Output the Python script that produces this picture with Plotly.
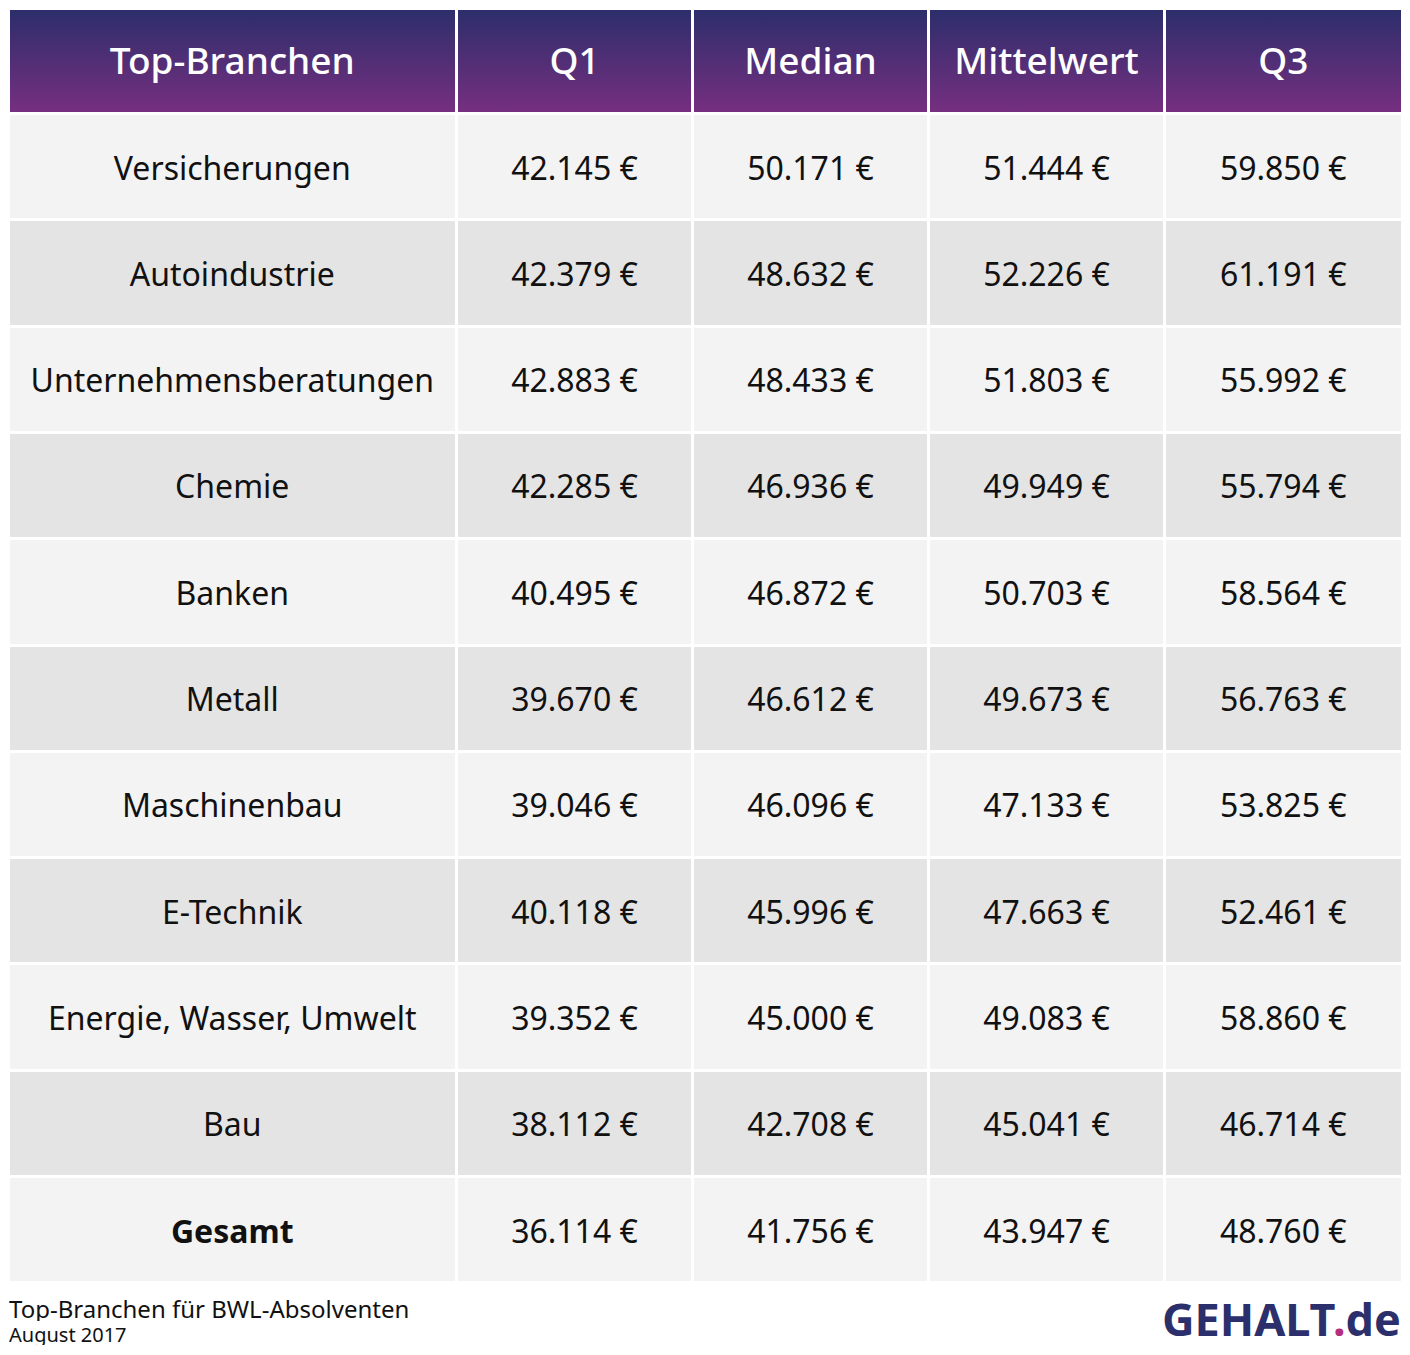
import plotly.graph_objects as go

#### table data
spalten = ['Top-Branchen', 'Q1', 'Median', 'Mittelwert', 'Q3']
branchen = ['Versicherungen', 'Autoindustrie', 'Unternehmensberatungen', 'Chemie', 'Banken',
            'Metall', 'Maschinenbau', 'E-Technik', 'Energie, Wasser, Umwelt', 'Bau', 'Gesamt']
q1 = [42145, 42379, 42883, 42285, 40495, 39670, 39046, 40118, 39352, 38112, 36114]
median = [50171, 48632, 48433, 46936, 46872, 46612, 46096, 45996, 45000, 42708, 41756]
mittelwert = [51444, 52226, 51803, 49949, 50703, 49673, 47133, 47663, 49083, 45041, 43947]
q3 = [59850, 61191, 55992, 55794, 58564, 56763, 53825, 52461, 58860, 46714, 48760]

# page has an 8px body margin, so the figure is sized to fill the rest of the window
W, H = 1394, 1339
FONT = 'Noto Sans'
HEAD_H, ROW_H = 105.5, 106.3
COLW = [448.5, 236, 236, 236, 237.5]
TEXT_SHIFT = 30  # push the text down so it sits in the middle of the cells

def euro(v):
    # every cell gets a tag so all of them are laid out the same way as the bold one
    return '<span>' + f'{v:,}'.replace(',', '.') + ' €</span>'

n = len(branchen)
row_fill = ['#f3f3f3' if i % 2 == 0 else '#e4e4e4' for i in range(n)]
namen = [f'<b>{b}</b>' if b == 'Gesamt' else f'<span>{b}</span>' for b in branchen]

fig = go.Figure()

#### gradient behind header (table header is transparent)
fig.add_trace(go.Scatter(
    x=[0, W, W, 0, 0], y=[H - HEAD_H, H - HEAD_H, H, H, H - HEAD_H],
    mode='lines', line=dict(width=0), fill='toself',
    fillgradient=dict(type='vertical', colorscale=[[0, '#772f80'], [1, '#2b2e6b']]),
    hoverinfo='skip', showlegend=False))

#### grid: cell fills and white separators
fig.add_trace(go.Table(
    domain=dict(x=[0, 1], y=[0, 1]),
    columnwidth=COLW,
    header=dict(values=[''] * 5, height=HEAD_H, fill_color='rgba(0,0,0,0)',
                line=dict(color='white', width=3)),
    cells=dict(values=[[''] * n] * 5, height=ROW_H, fill_color=[row_fill] * 5,
               line=dict(color='white', width=3))))

#### text, same table geometry shifted down a little
fig.add_trace(go.Table(
    domain=dict(x=[0, 1], y=[0, 1 - TEXT_SHIFT / H]),
    columnwidth=COLW,
    header=dict(values=spalten, height=HEAD_H - 6, fill_color='rgba(0,0,0,0)',
                line=dict(color='rgba(0,0,0,0)', width=0), align='center',
                font=dict(family=FONT, size=37, color='white', weight=500)),
    cells=dict(values=[namen, [euro(v) for v in q1], [euro(v) for v in median],
                       [euro(v) for v in mittelwert], [euro(v) for v in q3]],
               height=ROW_H, fill_color='rgba(0,0,0,0)',
               line=dict(color='rgba(0,0,0,0)', width=0), align='center',
               font=dict(family=FONT, size=32, color='#111111'))))

#### footer (fixed box heights so the boxes don't overlap or spill past the bottom)
fig.add_annotation(x=0, y=1 - 1300 / H, xref='paper', yref='paper', xanchor='left', yanchor='middle',
                   text='Top-Branchen für BWL-Absolventen', showarrow=False, borderpad=0,
                   height=26, valign='middle',
                   font=dict(family=FONT, size=24, color='#111111'))
fig.add_annotation(x=0, y=1 - 1326 / H, xref='paper', yref='paper', xanchor='left', yanchor='middle',
                   text='August 2017', showarrow=False, borderpad=0,
                   height=22, valign='middle',
                   font=dict(family=FONT, size=20, color='#111111'))
fig.add_annotation(x=1, y=1 - 1310 / H, xref='paper', yref='paper', xanchor='right', yanchor='middle',
                   text='<b>GEHALT<span style="color:#b62d7f">.</span>de</b>', showarrow=False, borderpad=0,
                   height=46, valign='middle',
                   font=dict(family=FONT, size=45, color='#2b2f6b'))

fig.update_layout(width=W, height=H, margin=dict(l=0, r=0, t=0, b=0),
                  paper_bgcolor='white', plot_bgcolor='white',
                  xaxis=dict(range=[0, W], visible=False, fixedrange=True),
                  yaxis=dict(range=[0, H], visible=False, fixedrange=True))

fig.write_html('out.html')
